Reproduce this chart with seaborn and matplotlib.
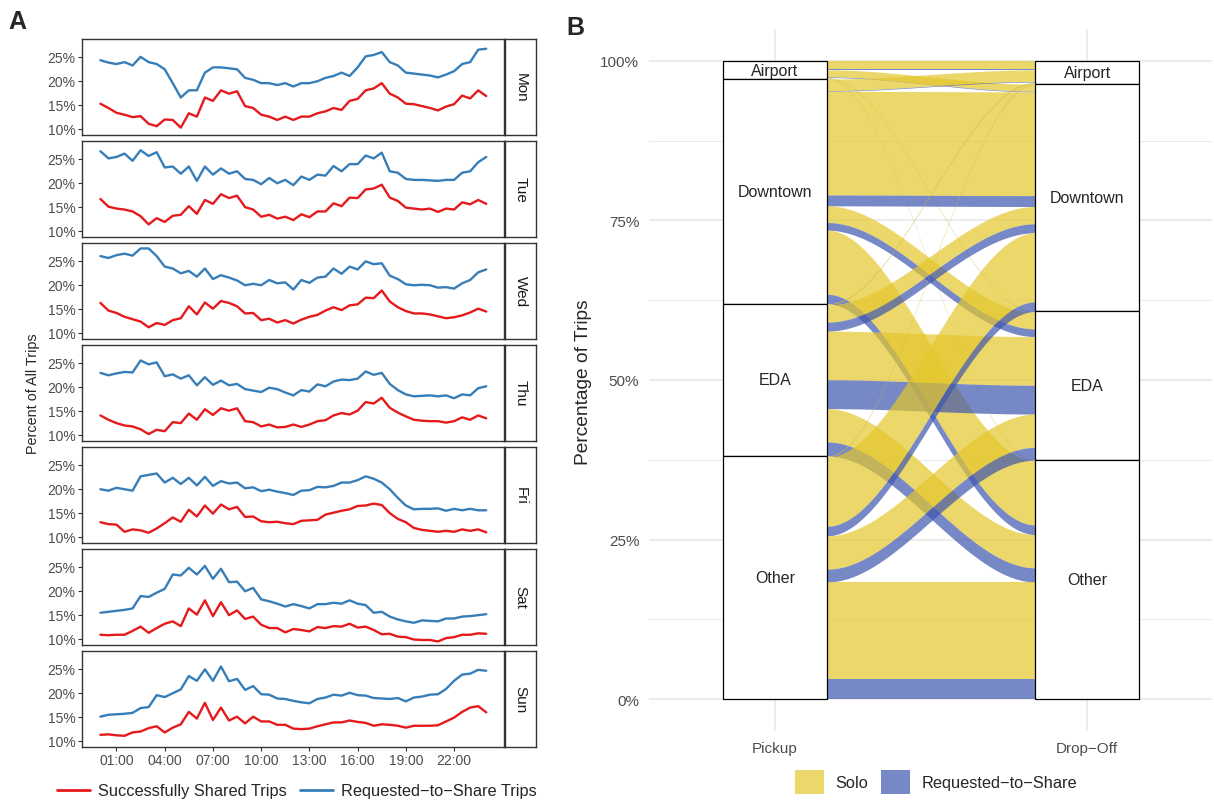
import numpy as np
import pandas as pd
import matplotlib
matplotlib.use("Agg")
import matplotlib.pyplot as plt
import seaborn as sns
from matplotlib.lines import Line2D
from matplotlib.patches import Patch

sns.set_theme(style="white")
plt.rcParams["font.family"] = ["Liberation Sans", "DejaVu Sans"]

# ---------------- panel A: share of trips over the day (30 min steps, 00:00-24:00)
hours = np.arange(0, 24.01, 0.5)
days = ["Mon", "Tue", "Wed", "Thu", "Fri", "Sat", "Sun"]

mon_shared = [15.2, 14.3, 13.3, 12.9, 12.4, 12.6, 11.0, 10.5, 11.9, 11.8, 10.2, 13.2, 12.5, 16.5, 15.8, 18.0, 17.3,
              17.8, 14.7, 14.3, 12.9, 12.5, 11.8, 12.5, 11.8, 12.5, 12.5, 13.2, 13.6, 14.3, 13.9, 15.8, 16.2, 18.0,
              18.4, 19.5, 17.3, 16.5, 15.2, 15.1, 14.7, 14.3, 13.8, 14.6, 15.1, 16.9, 16.3, 18.0, 16.8]
mon_requested = [24.3, 23.8, 23.5, 23.9, 23.2, 25.0, 23.9, 23.5, 22.4, 19.5, 16.5, 18.0, 18.0, 21.7, 22.8, 22.8, 22.6,
                 22.4, 20.6, 20.2, 19.5, 19.5, 19.1, 19.5, 18.8, 19.5, 19.5, 19.9, 20.6, 21.0, 21.7, 21.0, 22.8, 25.1,
                 25.4, 26.0, 23.9, 23.2, 21.7, 21.5, 21.3, 21.1, 20.7, 21.3, 22.0, 23.5, 23.9, 26.5, 26.7]
tue_shared = [16.6, 15.0, 14.6, 14.4, 14.0, 13.0, 11.3, 12.6, 11.8, 13.1, 13.3, 15.1, 13.5, 16.4, 15.6, 17.6, 16.8,
              17.3, 14.9, 14.4, 12.9, 13.3, 12.5, 12.9, 12.2, 13.4, 12.8, 14.0, 14.0, 15.7, 15.1, 16.9, 16.8, 18.6,
              18.8, 19.6, 16.9, 16.2, 14.8, 14.6, 14.4, 14.6, 13.9, 14.6, 14.4, 15.9, 15.5, 16.4, 15.6]
tue_requested = [26.6, 25.1, 25.4, 26.1, 24.6, 26.8, 25.6, 26.4, 23.2, 23.4, 21.9, 23.4, 20.4, 23.4, 21.7, 23.0, 21.9,
                 22.4, 20.8, 20.6, 19.7, 21.0, 19.9, 20.6, 19.5, 21.3, 20.6, 21.7, 21.5, 23.5, 22.4, 23.9, 23.9, 25.7,
                 25.1, 26.3, 22.4, 22.1, 20.8, 20.6, 20.6, 20.5, 20.4, 20.6, 20.6, 22.1, 22.4, 24.3, 25.4]
wed_shared = [16.2, 14.6, 14.1, 13.3, 12.8, 12.3, 11.1, 12.0, 11.6, 12.6, 13.0, 15.5, 13.8, 16.3, 15.0, 16.6, 16.2,
              15.5, 14.0, 14.1, 12.6, 12.9, 12.1, 12.6, 11.9, 12.7, 13.3, 13.7, 14.6, 15.3, 14.7, 15.7, 15.9, 17.3,
              17.2, 18.8, 16.5, 15.3, 14.5, 14.0, 14.0, 13.8, 13.4, 13.0, 13.2, 13.6, 14.2, 15.0, 14.4]
wed_requested = [26.0, 25.6, 26.2, 26.5, 26.1, 27.6, 27.6, 26.0, 23.8, 23.4, 22.4, 22.9, 21.7, 23.4, 21.2, 22.0, 21.5,
                 20.9, 19.9, 20.2, 19.9, 21.0, 20.3, 20.5, 19.0, 21.0, 20.4, 21.5, 21.7, 23.4, 22.3, 23.8, 23.2, 24.9,
                 24.3, 24.5, 21.9, 21.2, 20.1, 19.9, 20.0, 19.9, 19.4, 19.5, 19.2, 20.3, 21.0, 22.6, 23.2]
thu_shared = [14.0, 13.1, 12.4, 11.9, 11.7, 11.1, 10.1, 11.0, 10.7, 12.6, 12.4, 14.4, 13.1, 15.3, 14.1, 15.5, 15.0,
              15.5, 12.8, 12.6, 11.7, 12.1, 11.5, 11.6, 12.1, 11.6, 12.1, 12.8, 13.0, 14.0, 14.5, 14.2, 15.0, 16.8,
              16.5, 17.7, 15.6, 14.6, 13.8, 13.1, 12.9, 12.8, 12.8, 12.5, 12.8, 13.6, 13.1, 14.0, 13.4]
thu_requested = [22.9, 22.4, 22.8, 23.1, 23.0, 25.5, 24.7, 25.1, 22.2, 22.6, 21.7, 22.4, 20.3, 22.0, 20.4, 21.3, 20.3,
                 20.6, 19.5, 19.2, 18.9, 19.8, 19.5, 18.8, 18.2, 19.3, 19.0, 20.5, 20.1, 21.1, 21.5, 21.4, 21.7, 23.2,
                 22.5, 22.9, 20.6, 19.3, 18.4, 18.0, 18.1, 18.2, 18.0, 18.2, 17.6, 18.4, 18.2, 19.7, 20.1]
fri_shared = [13.0, 12.6, 12.5, 11.0, 11.5, 11.3, 10.8, 11.7, 12.8, 14.0, 13.1, 15.6, 14.2, 16.5, 14.8, 16.7, 15.7,
              16.2, 14.1, 14.2, 13.2, 13.0, 13.1, 12.8, 12.6, 13.3, 13.4, 13.5, 14.6, 15.0, 15.4, 15.7, 16.4, 16.5,
              16.9, 16.6, 14.9, 13.7, 13.0, 11.8, 11.4, 11.2, 11.0, 11.2, 11.0, 11.5, 11.2, 11.5, 10.9]
fri_requested = [19.9, 19.6, 20.2, 19.9, 19.6, 22.6, 22.9, 23.2, 21.3, 22.3, 21.0, 22.3, 20.7, 22.5, 20.6, 21.6, 21.1,
                 21.3, 20.1, 20.3, 19.5, 19.8, 19.4, 19.1, 18.7, 19.6, 19.7, 20.4, 20.3, 20.6, 21.3, 21.3, 21.8, 22.6,
                 22.1, 21.3, 19.9, 18.1, 16.5, 15.7, 15.8, 15.8, 15.9, 15.4, 15.8, 15.5, 15.8, 15.5, 15.5]
sat_shared = [10.8, 10.7, 10.8, 10.8, 11.6, 12.5, 11.2, 12.2, 13.1, 13.6, 12.6, 16.3, 15.0, 18.0, 14.7, 17.6, 14.9,
              15.9, 14.1, 14.6, 12.9, 12.2, 12.2, 11.3, 12.0, 11.8, 11.5, 12.4, 12.2, 12.6, 12.5, 13.1, 12.3, 12.5,
              11.8, 10.9, 11.0, 10.4, 10.3, 9.8, 9.7, 9.7, 9.4, 10.1, 10.3, 10.8, 10.8, 11.1, 11.0]
sat_requested = [15.4, 15.6, 15.8, 16.0, 16.3, 18.9, 18.7, 19.6, 20.4, 23.4, 23.2, 24.8, 23.4, 25.2, 22.5, 24.6, 21.8,
                 21.9, 19.9, 20.6, 18.2, 17.8, 17.3, 16.7, 17.2, 16.8, 16.3, 17.2, 17.2, 17.5, 17.3, 18.0, 17.3, 17.0,
                 15.4, 15.6, 14.6, 14.0, 13.6, 13.3, 13.8, 13.7, 13.6, 14.2, 14.2, 14.6, 14.7, 14.9, 15.1]
sun_shared = [11.2, 11.3, 11.1, 11.0, 11.7, 11.9, 12.6, 13.0, 11.7, 12.7, 13.4, 16.0, 14.6, 17.9, 14.3, 16.9, 14.2,
              15.0, 13.6, 15.0, 14.0, 14.0, 13.3, 13.3, 12.5, 12.4, 12.5, 13.0, 13.4, 13.8, 13.8, 14.2, 13.9, 13.7,
              13.1, 13.4, 13.3, 13.1, 12.7, 13.1, 13.1, 13.1, 13.2, 14.0, 14.8, 16.0, 16.9, 17.2, 15.9]
sun_requested = [15.0, 15.4, 15.5, 15.6, 15.8, 16.8, 17.0, 19.5, 19.1, 19.9, 20.7, 23.5, 22.5, 24.9, 22.5, 25.5, 22.4,
                 22.9, 20.6, 21.4, 19.7, 19.6, 18.8, 18.7, 18.3, 18.0, 17.8, 18.7, 19.0, 19.6, 19.4, 20.0, 19.5, 19.4,
                 18.9, 18.8, 18.7, 18.9, 18.2, 19.0, 19.2, 19.6, 19.7, 20.8, 22.5, 23.8, 24.0, 24.8, 24.6]

shared = dict(zip(days, [mon_shared, tue_shared, wed_shared, thu_shared, fri_shared, sat_shared, sun_shared]))
requested = dict(zip(days, [mon_requested, tue_requested, wed_requested, thu_requested, fri_requested,
                            sat_requested, sun_requested]))

lab_shared = "Successfully Shared Trips"
lab_req = "Requested\u2212to\u2212Share Trips"
frames = []
for d in days:
    frames.append(pd.DataFrame({"day": d, "hour": hours, "pct": shared[d], "series": lab_shared}))
    frames.append(pd.DataFrame({"day": d, "hour": hours, "pct": requested[d], "series": lab_req}))
trips = pd.concat(frames, ignore_index=True)

time_ticks = [1, 4, 7, 10, 13, 16, 19, 22]
time_labels = ["01:00", "04:00", "07:00", "10:00", "13:00", "16:00", "19:00", "22:00"]

# ---------------- panel B: flows pickup -> drop-off (% of trips), rows = pickup, cols = drop-off
zones = ["Airport", "Downtown", "EDA", "Other"]
solo_pct = [[1.3, 1.1, 0.1, 0.1],
            [1.8, 16.2, 2.6, 10.0],
            [0.15, 2.7, 7.6, 5.2],
            [0.15, 10.8, 5.2, 15.2]]
share_pct = [[0.1, 0.1, 0.02, 0.02],
             [0.1, 1.7, 1.2, 1.5],
             [0.02, 1.4, 4.5, 2.2],
             [0.02, 1.5, 2.0, 3.1]]
trip_types = ["Solo", "Requested\u2212to\u2212Share"]

rows = []
for i, p in enumerate(zones):
    for j, q in enumerate(zones):
        rows.append((p, q, 0, solo_pct[i][j]))
        rows.append((p, q, 1, share_pct[i][j]))
flows = pd.DataFrame(rows, columns=["pickup", "dropoff", "kind", "pct"])
flows["pct"] = flows["pct"] / flows["pct"].sum()
flows["pi"] = flows["pickup"].map(zones.index)
flows["di"] = flows["dropoff"].map(zones.index)

# stack from the top (Airport) down
left = flows.sort_values(["pi", "di", "kind"])
flows.loc[left.index, "l_top"] = 1 - left["pct"].cumsum().shift(fill_value=0)
right = flows.sort_values(["di", "pi", "kind"])
flows.loc[right.index, "r_top"] = 1 - right["pct"].cumsum().shift(fill_value=0)

flow_colors = ["#E4C72D", "#3E56AE"]

# ---------------- figure
W, H = 1214, 803
fig = plt.figure(figsize=(W / 100, H / 100), dpi=100)


def px_axes(l, t, r, b):
    return fig.add_axes([l / W, 1 - b / H, (r - l) / W, (b - t) / H])


palette = {lab_shared: "#E41A1C", lab_req: "#377EB8"}
for i, d in enumerate(days):
    top = 39.7 + i * 102.0
    ax = px_axes(82.4, top, 503.6, top + 95.8)
    sns.lineplot(data=trips[trips["day"] == d], x="hour", y="pct", hue="series", palette=palette,
                 linewidth=1.7, legend=False, ax=ax)
    ax.set_xlim(-1.12, 25.08)
    ax.set_ylim(8.76, 28.8)
    ax.set_yticks([10, 15, 20, 25])
    ax.set_yticklabels(["10%", "15%", "20%", "25%"])
    ax.set_xticks(time_ticks)
    ax.set_xlabel("")
    ax.set_ylabel("")
    for s in ax.spines.values():
        s.set_color("#333333")
        s.set_linewidth(1.0)
    ax.tick_params(axis="y", length=3, width=0.8, color="#333333", labelsize=10,
                   labelcolor="#4D4D4D", pad=2, left=True)
    if d == "Sun":
        ax.set_xticklabels(time_labels)
        ax.tick_params(axis="x", length=3, width=0.8, color="#333333", labelsize=10,
                       labelcolor="#4D4D4D", pad=2, bottom=True)
    else:
        ax.tick_params(axis="x", bottom=False, labelbottom=False)

    strip = px_axes(505.4, top, 535.8, top + 95.8)
    strip.set_xticks([])
    strip.set_yticks([])
    for s in strip.spines.values():
        s.set_color("#333333")
        s.set_linewidth(1.0)
    strip.text(0.5, 0.5, d, rotation=-90, ha="center", va="center", fontsize=11, color="#1A1A1A",
               transform=strip.transAxes)

fig.text(33 / W, 1 - 394 / H, "Percent of All Trips", rotation=90, ha="center", va="center", fontsize=10.4)
handles_a = [Line2D([], [], color="#E41A1C", lw=2), Line2D([], [], color="#377EB8", lw=2)]
fig.legend(handles_a, [lab_shared, lab_req], loc="center", bbox_to_anchor=(297 / W, 1 - 792 / H), ncol=2,
           frameon=False, fontsize=11.8, handlelength=2.0, columnspacing=0.8, handletextpad=0.5)

fig.text(8 / W, 1 - 22 / H, "A", fontsize=18, fontweight="bold", va="center", ha="left")
fig.text(566 / W, 1 - 28 / H, "B", fontsize=18, fontweight="bold", va="center", ha="left")

# ---------------- panel B
axb = px_axes(649, 30, 1212, 732)
axb.set_xlim(0.596, 2.4)
axb.set_ylim(-0.05, 1.05)
axb.set_yticks([0, 0.25, 0.5, 0.75, 1.0])
axb.set_yticklabels(["0%", "25%", "50%", "75%", "100%"])
axb.set_yticks([0.125, 0.375, 0.625, 0.875], minor=True)
axb.set_xticks([1, 2])
axb.set_xticklabels(["Pickup", "Drop\u2212Off"])
axb.grid(which="major", color="#EBEBEB", lw=1.3)
axb.grid(which="minor", axis="y", color="#EBEBEB", lw=0.7)
axb.set_axisbelow(True)
for s in axb.spines.values():
    s.set_visible(False)
axb.tick_params(which="both", length=0, labelsize=11, labelcolor="#4D4D4D")
axb.tick_params(axis="y", pad=7)
axb.tick_params(axis="x", pad=7)

x0, x1 = 1 + 1 / 6, 2 - 1 / 6
xs = np.linspace(x0, x1, 120)
t = (xs - x0) / (x1 - x0)
s = t * t * (3 - 2 * t)
for _, f in flows.iterrows():
    top_curve = f["l_top"] + (f["r_top"] - f["l_top"]) * s
    bot_curve = top_curve - f["pct"]
    axb.fill_between(xs, bot_curve, top_curve, color=flow_colors[int(f["kind"])], alpha=0.7, lw=0, zorder=2)

for xpos, col in [(1, "pickup"), (2, "dropoff")]:
    sizes = flows.groupby(col)["pct"].sum().reindex(zones)
    tops = 1 - sizes.cumsum().shift(fill_value=0)
    axb.bar([xpos] * 4, sizes.values, bottom=(tops - sizes).values, width=1 / 3, color="white",
            edgecolor="black", linewidth=0.9, zorder=3)
    for z in zones:
        axb.text(xpos, tops[z] - sizes[z] / 2, z, ha="center", va="center", fontsize=11.5, zorder=4)

fig.text(583 / W, 1 - 382 / H, "Percentage of Trips", rotation=90, ha="center", va="center", fontsize=13.8)
handles_b = [Patch(facecolor=flow_colors[0], alpha=0.7, lw=0), Patch(facecolor=flow_colors[1], alpha=0.7, lw=0)]
fig.legend(handles_b, trip_types, loc="center", bbox_to_anchor=(936 / W, 1 - 783 / H), ncol=2, frameon=False,
           fontsize=11.8, handlelength=1.8, handleheight=1.8, columnspacing=0.75, handletextpad=0.7)

fig.savefig("out.png", dpi=100)
